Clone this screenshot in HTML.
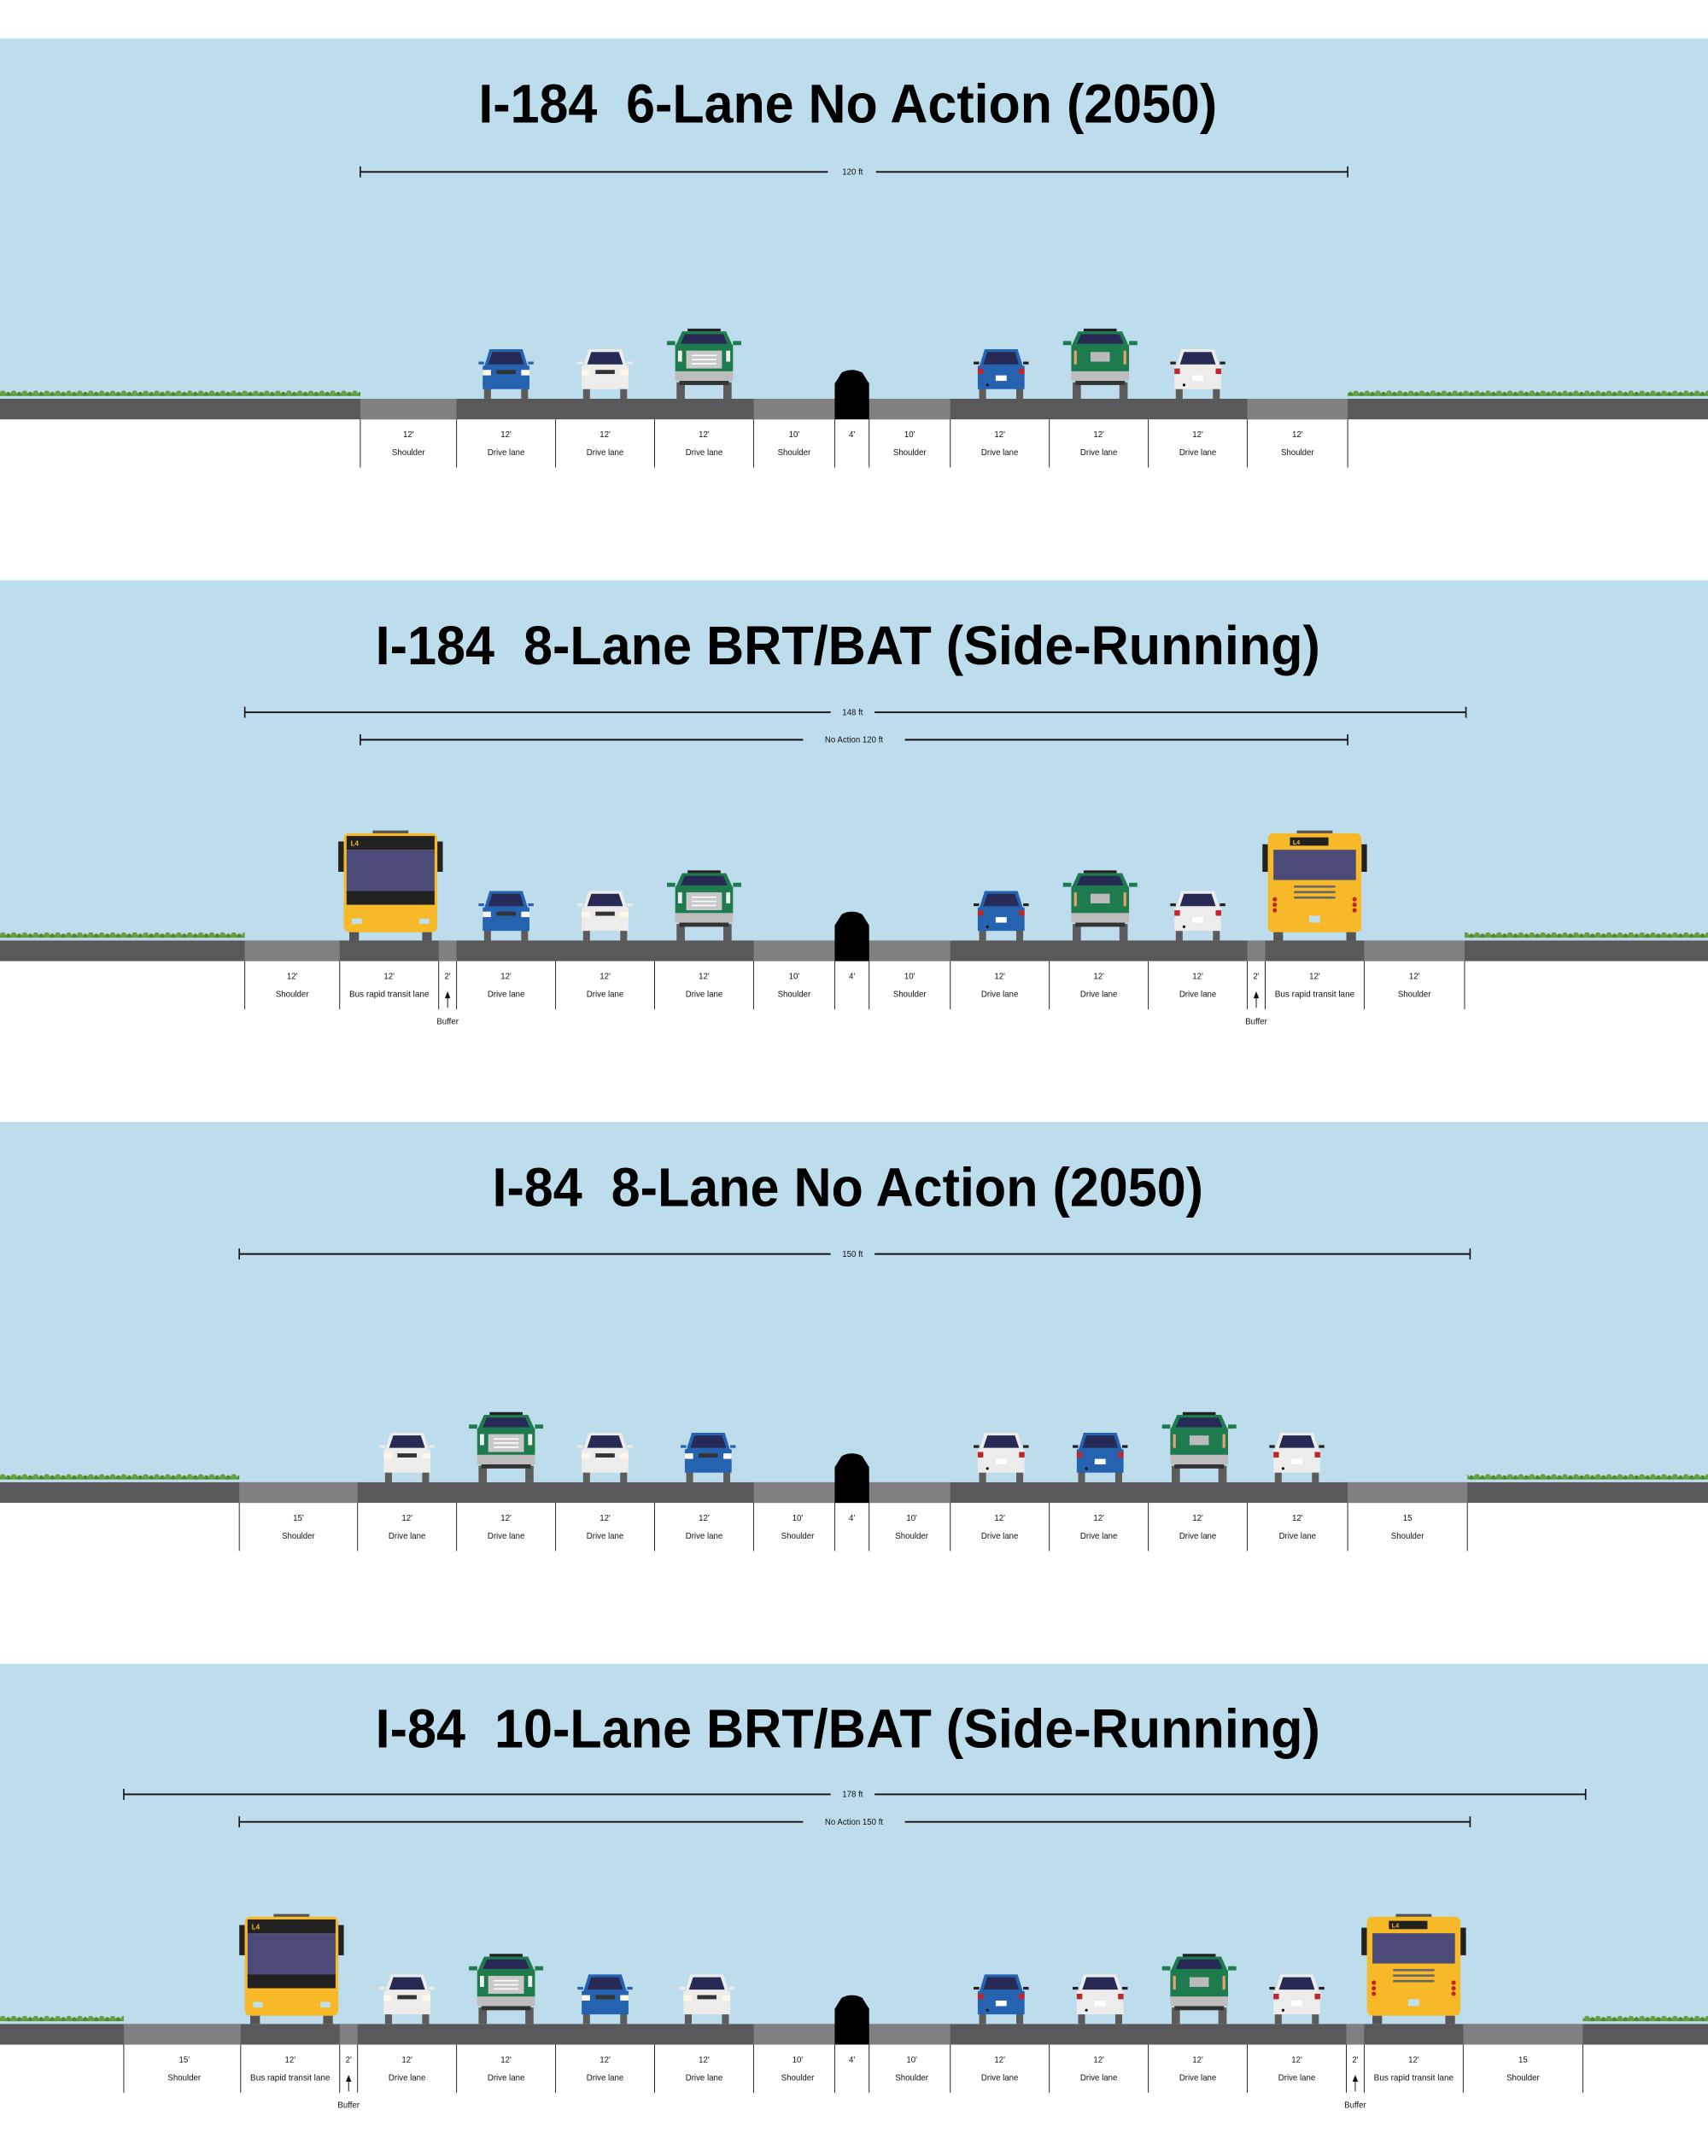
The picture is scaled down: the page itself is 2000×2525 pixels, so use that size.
<!DOCTYPE html>
<html><head><meta charset="utf-8"><style>
html,body{margin:0;padding:0;background:#fff}
svg{display:block}
text{font-family:"Liberation Sans",sans-serif}
.t{font-weight:bold;font-size:40px;fill:#000}
.s{font-size:6px;fill:#111;text-anchor:middle}
.d{font-size:6px;fill:#111;text-anchor:middle}
.sep{stroke:#222;stroke-width:0.6}
</style></head><body>
<svg width="2000" height="2525" viewBox="0 0 1242 1568" xmlns="http://www.w3.org/2000/svg">
<defs>
<pattern id="grass" width="8" height="6" patternUnits="userSpaceOnUse">
<rect x="0" y="4" width="8" height="2" fill="#5d9b3c"/>
<circle cx="2" cy="4" r="2" fill="#62a040"/><circle cx="6" cy="4.5" r="1.6" fill="#4f8a33"/>
</pattern>
<g id="sedanF">
<rect x="-16" y="-8" width="5" height="8" fill="#5c5c5c"/><rect x="11" y="-8" width="5" height="8" fill="#5c5c5c"/>
<rect x="-20" y="-27" width="4" height="2" fill="currentColor"/><rect x="16" y="-27" width="4" height="2" fill="currentColor"/>
<path d="M-12,-36 H12 L16,-23 H-16 Z" fill="currentColor"/>
<path d="M-10,-34 H10 L13,-25 H-13 Z" fill="#262a55"/>
<rect x="-17" y="-24" width="34" height="17" fill="currentColor"/>
<rect x="-17" y="-21" width="6" height="4" fill="#fff8e8"/><rect x="11" y="-21" width="6" height="4" fill="#fff8e8"/>
<rect x="-7" y="-21" width="14" height="3" fill="#333"/>
</g>
<g id="sedanR">
<rect x="-16" y="-8" width="5" height="8" fill="#5c5c5c"/><rect x="11" y="-8" width="5" height="8" fill="#5c5c5c"/>
<rect x="-20" y="-27" width="4" height="2" fill="#222"/><rect x="16" y="-27" width="4" height="2" fill="#222"/>
<path d="M-12,-36 H12 L16,-23 H-16 Z" fill="currentColor"/>
<path d="M-10,-34 H10 L13,-25 H-13 Z" fill="#262a55"/>
<rect x="-17" y="-24" width="34" height="17" fill="currentColor"/>
<rect x="-17" y="-22" width="4" height="4" fill="#c0262c"/><rect x="13" y="-22" width="4" height="4" fill="#c0262c"/>
<rect x="-4" y="-17" width="8" height="4" fill="#fff"/><circle cx="-10" cy="-10" r="1" fill="#111"/>
</g>
<g id="suvF">
<rect x="-20" y="-12" width="6" height="12" fill="#5c5c5c"/><rect x="14" y="-12" width="6" height="12" fill="#5c5c5c"/>
<rect x="-18" y="-14" width="36" height="4" fill="#333"/>
<rect x="-21" y="-21" width="42" height="8" fill="#bdbdbd"/>
<rect x="-27" y="-42" width="6" height="3" fill="#1e7b4d"/><rect x="21" y="-42" width="6" height="3" fill="#1e7b4d"/>
<path d="M-16,-49 H16 L21,-38 H-21 Z" fill="#1e7b4d"/>
<path d="M-14,-47 H14 L17,-40 H-17 Z" fill="#262a55"/>
<rect x="-12" y="-51" width="24" height="2" fill="#222"/>
<rect x="-21" y="-39" width="42" height="19" fill="#1e7b4d"/>
<rect x="-13" y="-35" width="26" height="13" fill="#c8c8c8"/>
<rect x="-9" y="-32" width="18" height="1" fill="#fff"/><rect x="-9" y="-29" width="18" height="1" fill="#fff"/><rect x="-9" y="-26" width="18" height="1" fill="#fff"/>
<rect x="-19" y="-35" width="3" height="8" fill="#eee"/><rect x="16" y="-35" width="3" height="8" fill="#eee"/>
</g>
<g id="suvR">
<rect x="-20" y="-12" width="6" height="12" fill="#5c5c5c"/><rect x="14" y="-12" width="6" height="12" fill="#5c5c5c"/>
<rect x="-18" y="-14" width="36" height="4" fill="#333"/>
<rect x="-21" y="-21" width="42" height="8" fill="#bdbdbd"/>
<rect x="-27" y="-42" width="6" height="3" fill="#1e7b4d"/><rect x="21" y="-42" width="6" height="3" fill="#1e7b4d"/>
<path d="M-16,-49 H16 L21,-38 H-21 Z" fill="#1e7b4d"/>
<path d="M-14,-47 H14 L17,-40 H-17 Z" fill="#262a55"/>
<rect x="-12" y="-51" width="24" height="2" fill="#222"/>
<rect x="-21" y="-39" width="42" height="19" fill="#1e7b4d"/>
<rect x="-7" y="-34" width="14" height="7" fill="#bbb"/>
<rect x="-19" y="-35" width="2" height="10" fill="#e8a070"/><rect x="17" y="-35" width="2" height="10" fill="#e8a070"/>
</g>
<g id="busF">
<rect x="-13" y="-80" width="26" height="3" fill="#555"/>
<path d="M-38,-72 H-34 V-50 H-38 Z M34,-72 H38 V-50 H34 Z" fill="#222"/>
<rect x="-30" y="-8" width="7" height="8" fill="#555"/><rect x="23" y="-8" width="7" height="8" fill="#555"/>
<rect x="-34" y="-78" width="68" height="72" rx="4" fill="#f7b928"/>
<rect x="-32" y="-76" width="64" height="10" fill="#222"/>
<text x="-29" y="-69" font-size="5" font-weight="bold" fill="#f7b928">L4</text>
<rect x="-32" y="-66" width="64" height="31" fill="#4c4a78"/>
<rect x="-32" y="-36" width="64" height="10" fill="#222"/>
<rect x="-28" y="-16" width="7" height="4" fill="#bfe0ee"/><rect x="21" y="-16" width="7" height="4" fill="#bfe0ee"/>
</g>
<g id="busR">
<rect x="-13" y="-80" width="26" height="3" fill="#555"/>
<path d="M-38,-70 H-34 V-50 H-38 Z M34,-70 H38 V-50 H34 Z" fill="#222"/>
<rect x="-30" y="-8" width="7" height="8" fill="#555"/><rect x="23" y="-8" width="7" height="8" fill="#555"/>
<rect x="-34" y="-78" width="68" height="72" rx="4" fill="#f7b928"/>
<rect x="-18" y="-75" width="28" height="6" fill="#222"/>
<text x="-16" y="-70" font-size="4.5" font-weight="bold" fill="#f7b928">L4</text>
<rect x="-30" y="-66" width="60" height="22" fill="#4c4a78"/>
<rect x="-15" y="-40" width="30" height="1.6" fill="#666"/><rect x="-15" y="-36" width="30" height="1.6" fill="#666"/><rect x="-15" y="-32" width="30" height="1.6" fill="#666"/>
<circle cx="-29" cy="-30" r="1.6" fill="#c0262c"/><circle cx="-29" cy="-26" r="1.6" fill="#c0262c"/><circle cx="-29" cy="-22" r="1.6" fill="#c0262c"/>
<circle cx="29" cy="-30" r="1.6" fill="#c0262c"/><circle cx="29" cy="-26" r="1.6" fill="#c0262c"/><circle cx="29" cy="-22" r="1.6" fill="#c0262c"/>
<rect x="-4" y="-18" width="8" height="5" fill="#bfe0ee"/>
</g>
<path id="med" d="M607,305 V279 L612,271 Q619.5,267 627,271 L632,279 V305 Z" fill="#000"/>
</defs>

<!-- ===== PANEL 1 ===== -->
<g>
<rect x="0" y="28" width="1242" height="262" fill="#bddcec"/>
<text class="t" x="348" y="89" textLength="537" lengthAdjust="spacingAndGlyphs">I-184&#160;&#160;6-Lane No Action (2050)</text>
<line x1="262" y1="125" x2="602" y2="125" stroke="#111" stroke-width="1.2"/><line x1="637" y1="125" x2="980" y2="125" stroke="#111" stroke-width="1.2"/>
<line x1="262" y1="121" x2="262" y2="129" stroke="#111"/><line x1="980" y1="121" x2="980" y2="129" stroke="#111"/>
<text class="d" x="620" y="127">120 ft</text>
<rect x="0" y="284" width="262" height="6" fill="url(#grass)"/><rect x="980" y="284" width="262" height="6" fill="url(#grass)"/>
<rect x="0" y="290" width="1242" height="15" fill="#59595c"/>
<rect x="262" y="290" width="70" height="15" fill="#808083"/><rect x="548" y="290" width="59" height="15" fill="#808083"/><rect x="632" y="290" width="59" height="15" fill="#808083"/><rect x="907" y="290" width="73" height="15" fill="#808083"/>
<use href="#med"/>
<g class="sep"><line x1="262" y1="305" x2="262" y2="340"/><line x1="332" y1="305" x2="332" y2="340"/><line x1="404" y1="305" x2="404" y2="340"/><line x1="476" y1="305" x2="476" y2="340"/><line x1="548" y1="305" x2="548" y2="340"/><line x1="607" y1="305" x2="607" y2="340"/><line x1="632" y1="305" x2="632" y2="340"/><line x1="691" y1="305" x2="691" y2="340"/><line x1="763" y1="305" x2="763" y2="340"/><line x1="835" y1="305" x2="835" y2="340"/><line x1="907" y1="305" x2="907" y2="340"/><line x1="980" y1="305" x2="980" y2="340"/></g>
<text class="s" x="297" y="318">12'</text><text class="s" x="297" y="331">Shoulder</text>
<text class="s" x="368" y="318">12'</text><text class="s" x="368" y="331">Drive lane</text>
<text class="s" x="440" y="318">12'</text><text class="s" x="440" y="331">Drive lane</text>
<text class="s" x="512" y="318">12'</text><text class="s" x="512" y="331">Drive lane</text>
<text class="s" x="577.5" y="318">10'</text><text class="s" x="577.5" y="331">Shoulder</text>
<text class="s" x="619.5" y="318">4'</text>
<text class="s" x="661.5" y="318">10'</text><text class="s" x="661.5" y="331">Shoulder</text>
<text class="s" x="727" y="318">12'</text><text class="s" x="727" y="331">Drive lane</text>
<text class="s" x="799" y="318">12'</text><text class="s" x="799" y="331">Drive lane</text>
<text class="s" x="871" y="318">12'</text><text class="s" x="871" y="331">Drive lane</text>
<text class="s" x="943.5" y="318">12'</text><text class="s" x="943.5" y="331">Shoulder</text>
<use href="#sedanF" x="368" y="290" color="#2563b0"/>
<use href="#sedanF" x="440" y="290" color="#ececea"/>
<use href="#suvF" x="512" y="290"/>
<use href="#sedanR" x="728" y="290" color="#2563b0"/>
<use href="#suvR" x="800" y="290"/>
<use href="#sedanR" x="871" y="290" color="#ececea"/>
</g>

<!-- ===== PANEL 2 ===== -->
<g transform="translate(0,394)">
<rect x="0" y="28" width="1242" height="262" fill="#bddcec"/>
<text class="t" x="273" y="89" textLength="687" lengthAdjust="spacingAndGlyphs">I-184&#160;&#160;8-Lane BRT/BAT (Side-Running)</text>
<line x1="178" y1="124" x2="604" y2="124" stroke="#111" stroke-width="1.2"/><line x1="636" y1="124" x2="1066" y2="124" stroke="#111" stroke-width="1.2"/>
<line x1="178" y1="120" x2="178" y2="128" stroke="#111"/><line x1="1066" y1="120" x2="1066" y2="128" stroke="#111"/>
<text class="d" x="620" y="126">148 ft</text>
<line x1="262" y1="144" x2="584" y2="144" stroke="#111" stroke-width="1.2"/><line x1="658" y1="144" x2="980" y2="144" stroke="#111" stroke-width="1.2"/>
<line x1="262" y1="140" x2="262" y2="148" stroke="#111"/><line x1="980" y1="140" x2="980" y2="148" stroke="#111"/>
<text class="d" x="621" y="146">No Action 120 ft</text>
<rect x="0" y="284" width="178" height="6" fill="url(#grass)"/><rect x="1065" y="284" width="177" height="6" fill="url(#grass)"/>
<rect x="0" y="290" width="1242" height="15" fill="#59595c"/>
<rect x="178" y="290" width="69" height="15" fill="#808083"/><rect x="319" y="290" width="13" height="15" fill="#808083"/><rect x="548" y="290" width="59" height="15" fill="#808083"/><rect x="632" y="290" width="59" height="15" fill="#808083"/><rect x="907" y="290" width="13" height="15" fill="#808083"/><rect x="992" y="290" width="73" height="15" fill="#808083"/>
<use href="#med"/>
<g class="sep"><line x1="178" y1="305" x2="178" y2="340"/><line x1="247" y1="305" x2="247" y2="340"/><line x1="319" y1="305" x2="319" y2="340"/><line x1="332" y1="305" x2="332" y2="340"/><line x1="404" y1="305" x2="404" y2="340"/><line x1="476" y1="305" x2="476" y2="340"/><line x1="548" y1="305" x2="548" y2="340"/><line x1="607" y1="305" x2="607" y2="340"/><line x1="632" y1="305" x2="632" y2="340"/><line x1="691" y1="305" x2="691" y2="340"/><line x1="763" y1="305" x2="763" y2="340"/><line x1="835" y1="305" x2="835" y2="340"/><line x1="907" y1="305" x2="907" y2="340"/><line x1="920" y1="305" x2="920" y2="340"/><line x1="992" y1="305" x2="992" y2="340"/><line x1="1065" y1="305" x2="1065" y2="340"/></g>
<text class="s" x="212.5" y="318">12'</text><text class="s" x="212.5" y="331">Shoulder</text>
<text class="s" x="283" y="318">12'</text><text class="s" x="283" y="331" textLength="58" lengthAdjust="spacingAndGlyphs">Bus rapid transit lane</text>
<text class="s" x="325.5" y="318">2'</text>
<line x1="325.5" y1="339" x2="325.5" y2="331" stroke="#111" stroke-width="0.6"/><path d="M323.5,332 L325.5,327 L327.5,332 Z" fill="#111"/>
<text class="s" x="325.5" y="351">Buffer</text>
<text class="s" x="368" y="318">12'</text><text class="s" x="368" y="331">Drive lane</text>
<text class="s" x="440" y="318">12'</text><text class="s" x="440" y="331">Drive lane</text>
<text class="s" x="512" y="318">12'</text><text class="s" x="512" y="331">Drive lane</text>
<text class="s" x="577.5" y="318">10'</text><text class="s" x="577.5" y="331">Shoulder</text>
<text class="s" x="619.5" y="318">4'</text>
<text class="s" x="661.5" y="318">10'</text><text class="s" x="661.5" y="331">Shoulder</text>
<text class="s" x="727" y="318">12'</text><text class="s" x="727" y="331">Drive lane</text>
<text class="s" x="799" y="318">12'</text><text class="s" x="799" y="331">Drive lane</text>
<text class="s" x="871" y="318">12'</text><text class="s" x="871" y="331">Drive lane</text>
<text class="s" x="913.5" y="318">2'</text>
<line x1="913.5" y1="339" x2="913.5" y2="331" stroke="#111" stroke-width="0.6"/><path d="M911.5,332 L913.5,327 L915.5,332 Z" fill="#111"/>
<text class="s" x="913.5" y="351">Buffer</text>
<text class="s" x="956" y="318">12'</text><text class="s" x="956" y="331" textLength="58" lengthAdjust="spacingAndGlyphs">Bus rapid transit lane</text>
<text class="s" x="1028.5" y="318">12'</text><text class="s" x="1028.5" y="331">Shoulder</text>
<use href="#busF" x="284" y="290"/>
<use href="#sedanF" x="368" y="290" color="#2563b0"/>
<use href="#sedanF" x="440" y="290" color="#ececea"/>
<use href="#suvF" x="512" y="290"/>
<use href="#sedanR" x="728" y="290" color="#2563b0"/>
<use href="#suvR" x="800" y="290"/>
<use href="#sedanR" x="871" y="290" color="#ececea"/>
<use href="#busR" x="956" y="290"/>
</g>

<!-- ===== PANEL 3 ===== -->
<g transform="translate(0,788)">
<rect x="0" y="28" width="1242" height="262" fill="#bddcec"/>
<text class="t" x="358" y="89" textLength="517" lengthAdjust="spacingAndGlyphs">I-84&#160;&#160;8-Lane No Action (2050)</text>
<line x1="174" y1="124" x2="604" y2="124" stroke="#111" stroke-width="1.2"/><line x1="636" y1="124" x2="1069" y2="124" stroke="#111" stroke-width="1.2"/>
<line x1="174" y1="120" x2="174" y2="128" stroke="#111"/><line x1="1069" y1="120" x2="1069" y2="128" stroke="#111"/>
<text class="d" x="620" y="126">150 ft</text>
<rect x="0" y="284" width="174" height="6" fill="url(#grass)"/><rect x="1067" y="284" width="175" height="6" fill="url(#grass)"/>
<rect x="0" y="290" width="1242" height="15" fill="#59595c"/>
<rect x="174" y="290" width="86" height="15" fill="#808083"/><rect x="548" y="290" width="59" height="15" fill="#808083"/><rect x="632" y="290" width="59" height="15" fill="#808083"/><rect x="980" y="290" width="87" height="15" fill="#808083"/>
<use href="#med"/>
<g class="sep"><line x1="174" y1="305" x2="174" y2="340"/><line x1="260" y1="305" x2="260" y2="340"/><line x1="332" y1="305" x2="332" y2="340"/><line x1="404" y1="305" x2="404" y2="340"/><line x1="476" y1="305" x2="476" y2="340"/><line x1="548" y1="305" x2="548" y2="340"/><line x1="607" y1="305" x2="607" y2="340"/><line x1="632" y1="305" x2="632" y2="340"/><line x1="691" y1="305" x2="691" y2="340"/><line x1="763" y1="305" x2="763" y2="340"/><line x1="835" y1="305" x2="835" y2="340"/><line x1="907" y1="305" x2="907" y2="340"/><line x1="980" y1="305" x2="980" y2="340"/><line x1="1067" y1="305" x2="1067" y2="340"/></g>
<text class="s" x="217" y="318">15'</text><text class="s" x="217" y="331">Shoulder</text>
<text class="s" x="296" y="318">12'</text><text class="s" x="296" y="331">Drive lane</text>
<text class="s" x="368" y="318">12'</text><text class="s" x="368" y="331">Drive lane</text>
<text class="s" x="440" y="318">12'</text><text class="s" x="440" y="331">Drive lane</text>
<text class="s" x="512" y="318">12'</text><text class="s" x="512" y="331">Drive lane</text>
<text class="s" x="580" y="318">10'</text><text class="s" x="580" y="331">Shoulder</text>
<text class="s" x="619.5" y="318">4'</text>
<text class="s" x="663" y="318">10'</text><text class="s" x="663" y="331">Shoulder</text>
<text class="s" x="727" y="318">12'</text><text class="s" x="727" y="331">Drive lane</text>
<text class="s" x="799" y="318">12'</text><text class="s" x="799" y="331">Drive lane</text>
<text class="s" x="871" y="318">12'</text><text class="s" x="871" y="331">Drive lane</text>
<text class="s" x="943.5" y="318">12'</text><text class="s" x="943.5" y="331">Drive lane</text>
<text class="s" x="1023.5" y="318">15</text><text class="s" x="1023.5" y="331">Shoulder</text>
<use href="#sedanF" x="296" y="290" color="#ececea"/>
<use href="#suvF" x="368" y="290"/>
<use href="#sedanF" x="440" y="290" color="#ececea"/>
<use href="#sedanF" x="515" y="290" color="#2563b0"/>
<use href="#sedanR" x="728" y="290" color="#ececea"/>
<use href="#sedanR" x="800" y="290" color="#2563b0"/>
<use href="#suvR" x="872" y="290"/>
<use href="#sedanR" x="943" y="290" color="#ececea"/>
</g>

<!-- ===== PANEL 4 ===== -->
<g transform="translate(0,1182)">
<rect x="0" y="28" width="1242" height="262" fill="#bddcec"/>
<text class="t" x="273" y="89" textLength="687" lengthAdjust="spacingAndGlyphs">I-84&#160;&#160;10-Lane BRT/BAT (Side-Running)</text>
<line x1="90" y1="123" x2="604" y2="123" stroke="#111" stroke-width="1.2"/><line x1="636" y1="123" x2="1153" y2="123" stroke="#111" stroke-width="1.2"/>
<line x1="90" y1="119" x2="90" y2="127" stroke="#111"/><line x1="1153" y1="119" x2="1153" y2="127" stroke="#111"/>
<text class="d" x="620" y="125">178 ft</text>
<line x1="174" y1="143" x2="584" y2="143" stroke="#111" stroke-width="1.2"/><line x1="658" y1="143" x2="1069" y2="143" stroke="#111" stroke-width="1.2"/>
<line x1="174" y1="139" x2="174" y2="147" stroke="#111"/><line x1="1069" y1="139" x2="1069" y2="147" stroke="#111"/>
<text class="d" x="621" y="145">No Action 150 ft</text>
<rect x="0" y="284" width="90" height="6" fill="url(#grass)"/><rect x="1151" y="284" width="91" height="6" fill="url(#grass)"/>
<rect x="0" y="290" width="1242" height="15" fill="#59595c"/>
<rect x="90" y="290" width="85" height="15" fill="#808083"/><rect x="247" y="290" width="13" height="15" fill="#808083"/><rect x="548" y="290" width="59" height="15" fill="#808083"/><rect x="632" y="290" width="59" height="15" fill="#808083"/><rect x="979" y="290" width="13" height="15" fill="#808083"/><rect x="1064" y="290" width="87" height="15" fill="#808083"/>
<use href="#med"/>
<g class="sep"><line x1="90" y1="305" x2="90" y2="340"/><line x1="175" y1="305" x2="175" y2="340"/><line x1="247" y1="305" x2="247" y2="340"/><line x1="260" y1="305" x2="260" y2="340"/><line x1="332" y1="305" x2="332" y2="340"/><line x1="404" y1="305" x2="404" y2="340"/><line x1="476" y1="305" x2="476" y2="340"/><line x1="548" y1="305" x2="548" y2="340"/><line x1="607" y1="305" x2="607" y2="340"/><line x1="632" y1="305" x2="632" y2="340"/><line x1="691" y1="305" x2="691" y2="340"/><line x1="763" y1="305" x2="763" y2="340"/><line x1="835" y1="305" x2="835" y2="340"/><line x1="907" y1="305" x2="907" y2="340"/><line x1="979" y1="305" x2="979" y2="340"/><line x1="992" y1="305" x2="992" y2="340"/><line x1="1064" y1="305" x2="1064" y2="340"/><line x1="1151" y1="305" x2="1151" y2="340"/></g>
<text class="s" x="134" y="318">15'</text><text class="s" x="134" y="331">Shoulder</text>
<text class="s" x="211" y="318">12'</text><text class="s" x="211" y="331" textLength="58" lengthAdjust="spacingAndGlyphs">Bus rapid transit lane</text>
<text class="s" x="253.5" y="318">2'</text>
<line x1="253.5" y1="339" x2="253.5" y2="331" stroke="#111" stroke-width="0.6"/><path d="M251.5,332 L253.5,327 L255.5,332 Z" fill="#111"/>
<text class="s" x="253.5" y="351">Buffer</text>
<text class="s" x="296" y="318">12'</text><text class="s" x="296" y="331">Drive lane</text>
<text class="s" x="368" y="318">12'</text><text class="s" x="368" y="331">Drive lane</text>
<text class="s" x="440" y="318">12'</text><text class="s" x="440" y="331">Drive lane</text>
<text class="s" x="512" y="318">12'</text><text class="s" x="512" y="331">Drive lane</text>
<text class="s" x="580" y="318">10'</text><text class="s" x="580" y="331">Shoulder</text>
<text class="s" x="619.5" y="318">4'</text>
<text class="s" x="663" y="318">10'</text><text class="s" x="663" y="331">Shoulder</text>
<text class="s" x="727" y="318">12'</text><text class="s" x="727" y="331">Drive lane</text>
<text class="s" x="799" y="318">12'</text><text class="s" x="799" y="331">Drive lane</text>
<text class="s" x="871" y="318">12'</text><text class="s" x="871" y="331">Drive lane</text>
<text class="s" x="943" y="318">12'</text><text class="s" x="943" y="331">Drive lane</text>
<text class="s" x="985.5" y="318">2'</text>
<line x1="985.5" y1="339" x2="985.5" y2="331" stroke="#111" stroke-width="0.6"/><path d="M983.5,332 L985.5,327 L987.5,332 Z" fill="#111"/>
<text class="s" x="985.5" y="351">Buffer</text>
<text class="s" x="1028" y="318">12'</text><text class="s" x="1028" y="331" textLength="58" lengthAdjust="spacingAndGlyphs">Bus rapid transit lane</text>
<text class="s" x="1107.5" y="318">15</text><text class="s" x="1107.5" y="331">Shoulder</text>
<use href="#busF" x="212" y="290"/>
<use href="#sedanF" x="296" y="290" color="#ececea"/>
<use href="#suvF" x="368" y="290"/>
<use href="#sedanF" x="440" y="290" color="#2563b0"/>
<use href="#sedanF" x="514" y="290" color="#ececea"/>
<use href="#sedanR" x="728" y="290" color="#2563b0"/>
<use href="#sedanR" x="800" y="290" color="#ececea"/>
<use href="#suvR" x="872" y="290"/>
<use href="#sedanR" x="943" y="290" color="#ececea"/>
<use href="#busR" x="1028" y="290"/>
</g>
</svg>
</body></html>
